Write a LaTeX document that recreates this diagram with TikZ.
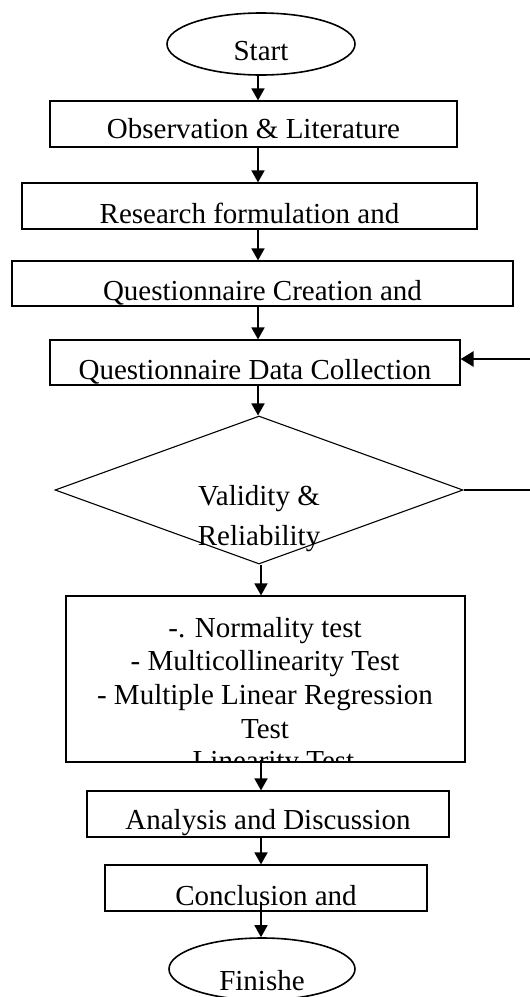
\documentclass[tikz,border=0pt]{standalone}
\usepackage{fontspec}
\setmainfont{Liberation Serif}
\usetikzlibrary{shapes.geometric,arrows.meta,calc}
\begin{document}
\begin{tikzpicture}[x=1pt,y=1pt,
  every node/.style={font=\fontsize{29}{34}\selectfont, inner sep=0pt},
  procbox/.style={draw, line width=1.2pt, rectangle, minimum height=46pt, text depth=0pt},
  term/.style={draw, line width=1.6pt, ellipse, minimum width=188pt, minimum height=62pt, text depth=0pt},
  decis/.style={draw, line width=1.1pt, diamond, minimum width=408pt, minimum height=148pt},
  arr/.style={line width=1.8pt, -{Triangle[width=13pt,length=12pt]}},
  feed/.style={line width=2.8pt, -{Triangle[width=15pt,length=13pt]}},
  txt/.style={anchor=base},
]
\useasboundingbox (0,0) rectangle (530,-997);

\coordinate (ax1) at (258,0);
\coordinate (ax2) at (261,0);
\coordinate (fin) at (530,-359);
\coordinate (fout) at (530,-490);

\node[term, text height=32pt] (start) at (261,-44) {Start};
\node[procbox, minimum width=407pt, text height=28pt] (b1) at (253.5,-124) {Observation \& Literature};
\node[procbox, minimum width=455pt, text height=34pt] (b2) at (249.5,-206) {Research formulation and};
\node[procbox, minimum width=501pt, minimum height=45pt, text height=34pt] (b3) at (262.5,-283.5) {Questionnaire Creation and};
\node[procbox, minimum width=410pt, minimum height=45pt, text height=33pt] (b4) at (255,-362.5) {Questionnaire Data Collection};
\node[decis] (dec) at (259,-490) {};
\node[txt] (dl1) at (259,-505.5) {Validity \&};
\node[txt] (dl2) at (259,-545) {Reliability};

\node[procbox, minimum width=399pt, minimum height=166pt] (b5) at (265.5,-679) {};
\begin{scope}
  \clip (b5.north west) rectangle (b5.south east);
  \node[txt] (t1) at (265,-637) {-. Normality test};
  \node[txt] (t2) at (265,-670.5) {- Multicollinearity Test};
  \node[txt] (t3) at (265,-704.5) {- Multiple Linear Regression};
  \node[txt] (t4) at (265,-738) {Test};
  \node[txt] (t5) at (265,-770) {- Linearity Test};
\end{scope}

\node[procbox, minimum width=362pt, text height=30pt] (b6) at (268,-814) {Analysis and Discussion};
\node[procbox, minimum width=322pt, text height=34pt] (b7) at (266,-888) {Conclusion and};
\node[term, minimum width=186pt, text height=42pt] (finish) at (262,-969) {Finishe};

\draw[arr] (start.south -| ax1) -- (b1.north -| ax1);
\draw[arr] (b1.south -| ax1) -- (b2.north -| ax1);
\draw[arr] (b2.south -| ax1) -- (b3.north -| ax1);
\draw[arr] (b3.south -| ax1) -- (b4.north -| ax1);
\draw[arr] (b4.south -| ax1) -- (dec.north -| ax1);
\draw[arr] (dec.south -| ax2) -- (b5.north -| ax2);
\draw[arr] ([yshift=3pt]b5.south -| ax2) -- (b6.north -| ax2);
\draw[arr] (b6.south -| ax2) -- (b7.north -| ax2);
\draw[arr] ([yshift=10pt]b7.south -| ax2) -- (finish.north -| ax2);

\draw[feed] (fin) -- (fin -| b4.east);
\draw[line width=1.2pt] (dec.east) -- (fout);
\end{tikzpicture}
\end{document}
